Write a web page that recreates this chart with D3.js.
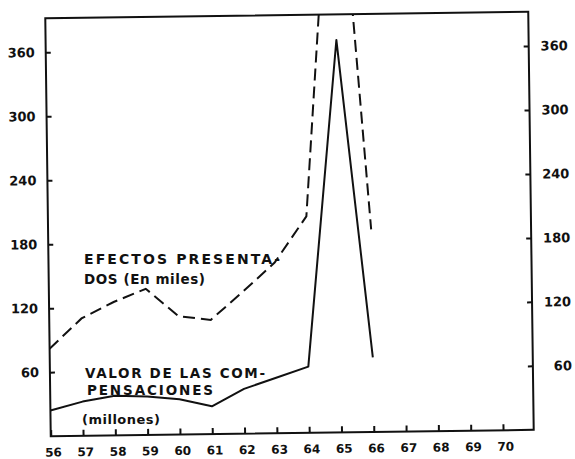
<!DOCTYPE html>
<html>
<head>
<meta charset="utf-8">
<script src="https://cdn.jsdelivr.net/npm/d3@7"></script>
<style>
  body { margin: 0; background: #fff; }
  svg text { font-family: "DejaVu Sans", sans-serif; font-weight: bold; fill: #111; }
</style>
</head>
<body>
<div class="chart"></div>
<script>
// data
var years = [56, 57, 58, 59, 60, 61, 62, 63, 64, 65, 66, 67, 68, 69, 70];
var yTicks = [60, 120, 180, 240, 300, 360];

// EFECTOS PRESENTADOS (en miles) - dashed
var efectosYears = [56, 57, 58, 59, 60, 61, 62, 63, 64, 65, 66];
var efectosValues = [82, 110, 125, 137, 111, 107, 133, 160, 203, 610, 190];

// VALOR DE LAS COMPENSACIONES (millones) - solid
var valorYears = [56, 57, 58, 59, 60, 61, 62, 63, 64, 65, 66];
var valorValues = [24, 32, 37, 36, 33, 26, 42, 52, 62, 368, 70];

// svg container
var svgWidth = 575;
var svgHeight = 459;

// plot frame (before the slight tilt of the scan)
var frame = { left: 48, right: 531, top: 15, bottom: 433 };
var cx = (frame.left + frame.right) / 2;
var cy = (frame.top + frame.bottom) / 2;

var svg = d3.select(".chart")
  .append("svg")
  .attr("width", svgWidth)
  .attr("height", svgHeight);

svg.append("rect")
  .attr("width", svgWidth)
  .attr("height", svgHeight)
  .attr("fill", "#fff");

// the page was scanned a little crooked
var chartGroup = svg.append("g")
  .attr("transform", `rotate(-0.75, ${cx}, ${cy})`);

var xScale = d3.scaleLinear()
  .domain([56, 70.95])
  .range([frame.left, frame.right]);

var yScale = d3.scaleLinear()
  .domain([0, 392])
  .range([frame.bottom, frame.top]);

// clip so the dashed peak stops at the top border
chartGroup.append("clipPath")
  .attr("id", "plot-clip")
  .append("rect")
  .attr("x", frame.left)
  .attr("y", frame.top)
  .attr("width", frame.right - frame.left)
  .attr("height", frame.bottom - frame.top);

// left axis
var leftAxis = d3.axisLeft(yScale)
  .tickValues(yTicks)
  .tickSize(-5)
  .tickPadding(11);

var leftG = chartGroup.append("g")
  .attr("transform", `translate(${frame.left}, 0)`)
  .call(leftAxis);
leftG.select(".domain").remove();
leftG.selectAll("line").attr("stroke", "#111").attr("stroke-width", 2);
leftG.selectAll("text").attr("font-size", 13).attr("fill", "#111");

// right axis
var rightAxis = d3.axisRight(yScale)
  .tickValues(yTicks)
  .tickSize(-5)
  .tickPadding(39);

var rightG = chartGroup.append("g")
  .attr("transform", `translate(${frame.right}, 0)`)
  .call(rightAxis);
rightG.select(".domain").remove();
rightG.selectAll("line").attr("stroke", "#111").attr("stroke-width", 2);
rightG.selectAll("text")
  .attr("font-size", 13)
  .attr("fill", "#111")
  .attr("text-anchor", "end");

// bottom axis
var bottomAxis = d3.axisBottom(xScale)
  .tickValues(years)
  .tickFormat(d3.format("d"))
  .tickSize(-6)
  .tickPadding(12);

var bottomG = chartGroup.append("g")
  .attr("transform", `translate(0, ${frame.bottom})`)
  .call(bottomAxis);
bottomG.select(".domain").remove();
bottomG.selectAll("line").attr("stroke", "#111").attr("stroke-width", 2);
bottomG.selectAll("text")
  .attr("font-size", 12)
  .attr("fill", "#111")
  .attr("dx", 2);

// lines
var efectosData = efectosYears.map((d, i) => ({ year: d, value: efectosValues[i] }));
var valorData = valorYears.map((d, i) => ({ year: d, value: valorValues[i] }));

var line = d3.line()
  .x(d => xScale(d.year))
  .y(d => yScale(d.value));

chartGroup.append("path")
  .datum(efectosData)
  .attr("clip-path", "url(#plot-clip)")
  .attr("d", line)
  .attr("fill", "none")
  .attr("stroke", "#111")
  .attr("stroke-width", 2)
  .attr("stroke-dasharray", "12,6");

chartGroup.append("path")
  .datum(valorData)
  .attr("d", line)
  .attr("fill", "none")
  .attr("stroke", "#111")
  .attr("stroke-width", 2)
  .attr("stroke-linejoin", "round");

// frame
chartGroup.append("rect")
  .attr("x", frame.left)
  .attr("y", frame.top)
  .attr("width", frame.right - frame.left)
  .attr("height", frame.bottom - frame.top)
  .attr("fill", "none")
  .attr("stroke", "#111")
  .attr("stroke-width", 2);

// series labels
var labels = svg.append("g");

labels.append("text")
  .attr("x", 84).attr("y", 264)
  .attr("font-size", 14)
  .attr("textLength", 196)
  .attr("lengthAdjust", "spacing")
  .text("EFECTOS PRESENTA-");

labels.append("text")
  .attr("x", 84).attr("y", 284)
  .attr("font-size", 13.5)
  .attr("textLength", 121)
  .attr("lengthAdjust", "spacing")
  .text("DOS (En miles)");

labels.append("text")
  .attr("x", 85).attr("y", 378)
  .attr("font-size", 13.5)
  .attr("textLength", 180)
  .attr("lengthAdjust", "spacing")
  .text("VALOR DE LAS COM-");

labels.append("text")
  .attr("x", 87).attr("y", 395)
  .attr("font-size", 13.5)
  .attr("textLength", 126)
  .attr("lengthAdjust", "spacing")
  .text("PENSACIONES");

labels.append("text")
  .attr("x", 82).attr("y", 424)
  .attr("font-size", 13)
  .attr("textLength", 78)
  .attr("lengthAdjust", "spacing")
  .text("(millones)");
</script>
</body>
</html>
